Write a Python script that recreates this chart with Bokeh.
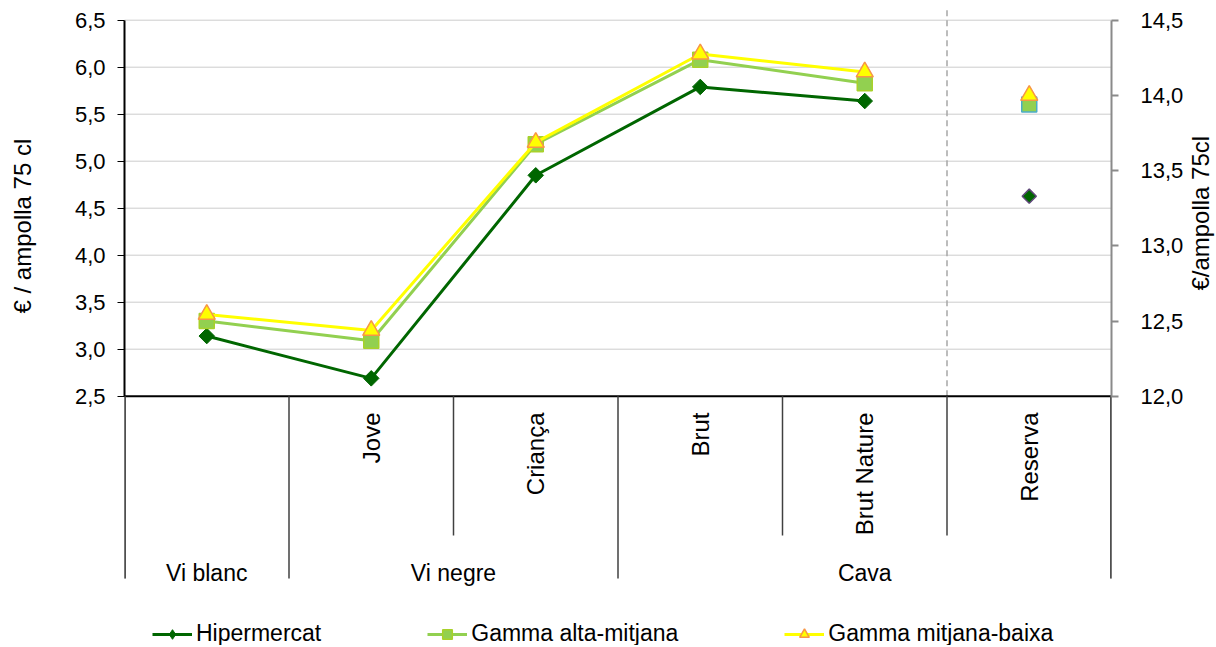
import math
from bokeh.plotting import figure
from bokeh.layouts import row
from bokeh.models import (Range1d, LinearAxis, FixedTicker, CustomJSTickFormatter,
                          Legend, LegendItem)
from bokeh.core.properties import value
from bokeh.embed import file_html
from bokeh.resources import INLINE

# ---------------- data ----------------
categories = ["Vi blanc", "Jove", "Criança", "Brut", "Brut Nature", "Reserva"]
sub_labels = ["", "Jove", "Criança", "Brut", "Brut Nature", "Reserva"]
groups = ["Vi blanc", "Vi negre", "Cava"]
group_sizes = [1, 2, 3]

series_names = ["Hipermercat", "Gamma alta-mitjana", "Gamma mitjana-baixa"]
# values for the first five categories (left axis)
hipermercat = [3.14, 2.69, 4.85, 5.79, 5.64]
gamma_alta = [3.30, 3.09, 5.18, 6.08, 5.83]
gamma_baixa = [3.37, 3.20, 5.20, 6.14, 5.95]
# Reserva (right axis)
reserva = [13.33, 13.94, 14.00]

left_ticks = [2.5, 3.0, 3.5, 4.0, 4.5, 5.0, 5.5, 6.0, 6.5]
right_ticks = [12.0, 12.5, 13.0, 13.5, 14.0, 14.5]

left_title = "€ / ampolla 75 cl"
right_title = "€/ampolla 75cl"

# ---------------- layout ----------------
FONT = "Liberation Sans"
H = 645
TOP = 7
LW, RW = 40, 29          # side strips holding the axis titles
BL = 84                   # border left of main figure
FW = 988                  # frame width
BR = 74
W = BL + FW + BR
FH = H - TOP
PX = 94.0                 # pixels per left-axis unit
y_end = 6.5 + 12.7 / PX
y_start = y_end - FH / PX
k = (right_ticks[-1] - right_ticks[0]) / (left_ticks[-1] - left_ticks[0])
r_start = right_ticks[0] + (y_start - left_ticks[0]) * k
r_end = right_ticks[0] + (y_end - left_ticks[0]) * k

def below(px):
    return left_ticks[0] - px / PX

def strip(width):
    f = figure(width=width, height=H, x_range=Range1d(0, width), y_range=Range1d(H, 0),
               output_backend="svg", toolbar_location=None,
               x_axis_location=None, y_axis_location=None,
               min_border_left=0, min_border_right=0, min_border_top=0, min_border_bottom=0)
    f.outline_line_color = None
    f.xgrid.visible = False
    f.ygrid.visible = False
    return f

fl = strip(LW)
fl.text(x=[22], y=[221], text=[left_title], angle=math.pi / 2,
        text_align="center", text_baseline="middle",
        text_font=value(FONT), text_font_size="24px", text_color="black")
fr = strip(RW)
fr.text(x=[14], y=[208], text=[right_title], angle=math.pi / 2,
        text_align="center", text_baseline="middle",
        text_font=value(FONT), text_font_size="24px", text_color="black")

n = len(categories)
p = figure(width=W, height=H, x_range=Range1d(0, n), y_range=Range1d(y_start, y_end),
           output_backend="svg", toolbar_location=None,
           x_axis_location=None, y_axis_location="left",
           min_border_left=BL, min_border_right=BR,
           min_border_top=TOP, min_border_bottom=0)
p.outline_line_color = None
p.xgrid.visible = False
p.ygrid.visible = False

p.extra_y_ranges = {"right": Range1d(r_start, r_end)}

fmt = CustomJSTickFormatter(code="return tick.toFixed(1).replace('.', ',')")

ya = p.yaxis[0]
ya.ticker = FixedTicker(ticks=left_ticks)
ya.formatter = fmt
ya.bounds = (left_ticks[0], left_ticks[-1])
ya.axis_line_width = 2
ya.axis_line_color = "black"
ya.major_tick_line_color = "black"
ya.major_tick_out = 7
ya.major_tick_in = 0
ya.minor_tick_line_color = None
ya.major_label_text_font = FONT
ya.major_label_text_font_size = "22px"
ya.major_label_text_color = "black"
ya.major_label_standoff = 12

ra = LinearAxis(y_range_name="right", ticker=FixedTicker(ticks=right_ticks), formatter=fmt,
                bounds=(right_ticks[0], right_ticks[-1]))
ra.axis_line_width = 2
ra.axis_line_color = "#8a8a8a"
ra.major_tick_line_color = "#8a8a8a"
ra.major_tick_line_width = 2
ra.major_tick_out = 7
ra.major_tick_in = 0
ra.minor_tick_line_color = None
ra.major_label_text_font = FONT
ra.major_label_text_font_size = "22px"
ra.major_label_text_color = "black"
ra.major_label_standoff = 22
p.add_layout(ra, "right")

# grid lines (dotted)
gy = left_ticks[1:]
p.segment(x0=[0] * len(gy), x1=[n] * len(gy), y0=gy, y1=gy,
          line_color="#999999", line_width=1, line_dash="1 1")

# dashed separator before Reserva
p.segment(x0=[n - 1], x1=[n - 1], y0=[left_ticks[0]], y1=[y_end],
          line_color="#a6a6a6", line_width=1.5, line_dash="6 4")

# baseline
p.segment(x0=[0], x1=[n], y0=[left_ticks[0]], y1=[left_ticks[0]], line_color="black", line_width=2)

# category table lines
group_bounds = [0]
for s in group_sizes:
    group_bounds.append(group_bounds[-1] + s)
long_bottom = below(182.3)
short_bottom = below(139.3)
xs, ybs = [], []
for b in range(n + 1):
    xs.append(b)
    ybs.append(long_bottom if b in group_bounds else short_bottom)
p.segment(x0=xs, x1=xs, y0=ybs, y1=[left_ticks[0]] * len(xs), line_color="#404040", line_width=1.5)
# edge lines (half clipped by frame)
p.segment(x0=[0, n], x1=[0, n], y0=[long_bottom] * 2, y1=[left_ticks[0]] * 2,
          line_color="#505050", line_width=3)

# rotated sub-category labels
sub_x = [i + 0.5 for i, s in enumerate(sub_labels) if s]
sub_t = [s for s in sub_labels if s]
p.text(x=sub_x, y=[below(16.3)] * len(sub_x), text=sub_t, angle=math.pi / 2,
       text_align="right", text_baseline="middle",
       text_font=value(FONT), text_font_size="24px", text_color="black")

# group labels
gx = [(group_bounds[i] + group_bounds[i + 1]) / 2 for i in range(len(groups))]
p.text(x=gx, y=[below(176.3)] * len(groups), text=groups,
       text_align="center", text_baseline="alphabetic",
       text_font=value(FONT), text_font_size="23px", text_color="black")

# ---------------- series ----------------
lx = [i + 0.5 for i in range(len(hipermercat))]
rx = [n - 0.5]

l1 = p.line(lx, hipermercat, line_color="#006600", line_width=3)
m1 = p.scatter(lx, hipermercat, marker="diamond", size=14,
               fill_color="#006600", line_color="#006600")
p.scatter(lx, hipermercat, marker="square", angle=math.pi / 4, size=11,
          fill_color="#006600", line_color="#006600")
p.scatter(rx, [reserva[0]], y_range_name="right", marker="square", angle=math.pi / 4, size=10,
          fill_color="#006600", line_color="#60497a", line_width=1.5)

l2 = p.line(lx, gamma_alta, line_color="#92d050", line_width=3)
m2 = p.scatter(lx, gamma_alta, marker="square", size=15,
               fill_color="#92d050", line_color="#a8d12a", line_width=1.5)
p.scatter(rx, [reserva[1]], y_range_name="right", marker="square", size=15,
          fill_color="#92d050", line_color="#4bacc6", line_width=1.5)

l3 = p.line(lx, gamma_baixa, line_color="#ffff00", line_width=3)
m3 = p.scatter(lx, gamma_baixa, marker="triangle", size=17,
               fill_color="#ffff00", line_color="#f79646", line_width=1.5)
p.scatter(rx, [reserva[2]], y_range_name="right", marker="triangle", size=17,
          fill_color="#ffff00", line_color="#f79646", line_width=1.5)

legend = Legend(items=[LegendItem(label=series_names[0], renderers=[l1, m1]),
                       LegendItem(label=series_names[1], renderers=[l2, m2]),
                       LegendItem(label=series_names[2], renderers=[l3, m3])],
                orientation="horizontal", location=(28, -2), spacing=106,
                glyph_width=40, glyph_height=24, label_height=24, label_standoff=4,
                padding=0, margin=0, border_line_alpha=0, background_fill_alpha=0,
                label_text_font=FONT, label_text_font_size="23px", label_text_color="black")
p.add_layout(legend)

layout = row(fl, p, fr)
open("out.html", "w").write(file_html(layout, INLINE))
